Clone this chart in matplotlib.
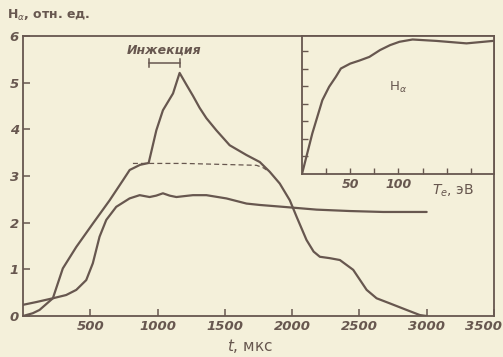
import matplotlib
matplotlib.use('Agg')
import matplotlib.pyplot as plt
from matplotlib.transforms import ScaledTranslation

# main curves (t in mks, H_alpha in rel. units)
t_inj = [0, 73, 123, 222, 296, 396, 519, 644, 743, 793, 870, 934, 991, 1040,
         1115, 1164, 1214, 1263, 1313, 1363, 1437, 1536, 1661, 1760, 1834,
         1908, 1983, 2033, 2107, 2160, 2206, 2280, 2355, 2454, 2554, 2628,
         2727, 2851, 2950, 3000]
h_inj = [0.0, 0.06, 0.13, 0.38, 1.02, 1.48, 1.98, 2.48, 2.91, 3.13, 3.24, 3.28,
         3.98, 4.41, 4.77, 5.21, 4.96, 4.72, 4.46, 4.24, 3.98, 3.66, 3.45,
         3.30, 3.09, 2.84, 2.48, 2.13, 1.63, 1.38, 1.27, 1.24, 1.20, 0.99,
         0.56, 0.38, 0.27, 0.13, 0.02, 0.0]

t_base = [0, 100, 222, 321, 396, 470, 519, 569, 619, 693, 792, 867, 941, 990,
          1040, 1090, 1140, 1200, 1263, 1363, 1512, 1661, 1760, 1933, 2182,
          2429, 2677, 3000]
h_base = [0.24, 0.30, 0.38, 0.45, 0.56, 0.77, 1.13, 1.70, 2.06, 2.34, 2.52,
          2.59, 2.55, 2.58, 2.63, 2.58, 2.55, 2.57, 2.59, 2.59, 2.52, 2.41,
          2.38, 2.34, 2.28, 2.25, 2.23, 2.23]

# dashed continuation without injection
t_dash = [817, 1200, 1735, 1784, 1810]
h_dash = [3.27, 3.27, 3.23, 3.18, 3.13]

inj_start, inj_end, inj_level = 934, 1164, 5.42

# inset: H_alpha vs T_e
te = [0, 10.7, 21.1, 28.1, 35.1, 40.3, 50, 59.4, 69.8, 80.9, 91.3, 101,
      114.6, 139.3, 170.5, 198]
h_te = [0, 2.31, 4.2, 4.96, 5.53, 6.0, 6.28, 6.45, 6.66, 7.05, 7.33, 7.52,
        7.65, 7.57, 7.43, 7.57]

bg = '#f4f0da'
ink = '#67574f'

fig = plt.figure(figsize=(5.03, 3.57), dpi=100, facecolor=bg)
ax = fig.add_axes([0.0457, 0.1148, 0.9363, 0.7842], facecolor=bg)

ax.plot(t_inj, h_inj, color=ink, lw=1.6, solid_capstyle='round')
ax.plot(t_base, h_base, color=ink, lw=1.6, solid_capstyle='round')
ax.plot(t_dash, h_dash, color=ink, lw=0.9, ls=(0, (4, 2.5)))

# injection bracket
ax.plot([inj_start, inj_end], [inj_level, inj_level], color=ink, lw=1.1)
for x in (inj_start, inj_end):
    ax.plot([x, x], [inj_level - 0.09, inj_level + 0.09], color=ink, lw=1.1)
ax.text((inj_start + inj_end) / 2, 5.70, 'Инжекция', color=ink, fontsize=9,
        style='italic', weight='bold', ha='center', va='center')

ax.set_xlim(0, 3500)
ax.set_ylim(0, 6)
ax.set_xticks([500, 1000, 1500, 2000, 2500, 3000, 3500])
ax.set_xticklabels(['500', '1000', '1500', '2000', '2500', '3000', '3500'])
ax.set_yticks([0, 1, 2, 3, 4, 5, 6])
ax.tick_params(direction='in', colors=ink, length=5, width=1.1, labelsize=9.5,
               pad=3)
for lab in ax.get_xticklabels() + ax.get_yticklabels():
    lab.set_style('italic')
    lab.set_weight('bold')
last = ax.get_xticklabels()[-1]
last.set_ha('right')
last.set_transform(last.get_transform() + ScaledTranslation(0.08, 0, fig.dpi_scale_trans))
for s in ax.spines.values():
    s.set_color(ink)
    s.set_linewidth(1.3)

fig.text(0.014, 0.958, r'H$_\alpha$, отн. ед.', color=ink, fontsize=9,
         weight='bold', ha='left', va='center')
fig.text(0.497, 0.03, r'$t$, мкс', color=ink, fontsize=11, ha='center',
         va='center')

# inset
ins = fig.add_axes([0.6004, 0.5126, 0.3817, 0.3866], facecolor=bg)
ins.plot(te, h_te, color=ink, lw=1.6)
ins.set_xlim(0, 199)
ins.set_ylim(0, 7.85)
ins.set_xticks([25, 50, 75, 100, 125, 150, 175])
ins.set_xticklabels(['', '50', '', '100', '', '', ''])
ins.set_yticks([1, 2, 3, 4, 5, 6, 7])
ins.set_yticklabels([])
ins.tick_params(direction='in', colors=ink, length=4, width=1.0, labelsize=9,
                pad=3)
for lab in ins.get_xticklabels():
    lab.set_style('italic')
    lab.set_weight('bold')
for s in ins.spines.values():
    s.set_color(ink)
    s.set_linewidth(1.3)
ins.text(99.6, 4.9, r'H$_\alpha$', color=ink, fontsize=9.5, ha='center',
         va='center')
ins.text(156, -0.95, r'$T_e$, эВ', color=ink, fontsize=10, ha='center',
         va='center')

fig.savefig('out.png', dpi=100, facecolor=bg)
